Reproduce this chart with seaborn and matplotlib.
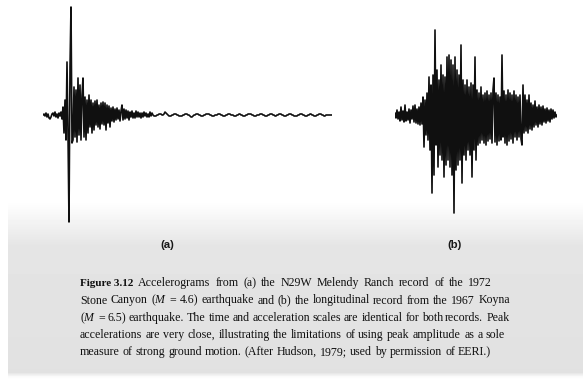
import numpy as np
import matplotlib
matplotlib.use("Agg")
import matplotlib.pyplot as plt
import seaborn as sns

# Digitised accelerograms, one sample every DT seconds (relative acceleration units)
DT = 0.05

# (a) N29W Melendy Ranch, 1972 Stone Canyon earthquake
accel_a = [
    0, 1, -1, 2, -2, 1, -3, -4, -2, 1,
    2, -1, 3, -2, 1, -3, 2, -1, 3, -4,
    8, -18, 15, -25, 53, -20, -107, 48, 108, -28,
    -25, 28, -22, 25, -27, 37, -20, 30, -25, 20,
    37, -22, 18, -25, 15, -18, 20, -12, 15, -18,
    12, -15, 14, -10, 15, -12, 10, -14, 12, -9,
    13, -10, 12, -15, 10, -8, 9, -12, 7, -6,
    8, -7, 6, -5, 7, -4, 5, -6, 4, 10,
    -5, 6, -4, 5, -3, 4, -5, 3, -2, 4,
    -3, 2, -3, 4, -2, 3, -2, 2, -3, 2,
    -2, 3, -1, 2, -2, 1, -2, 3, -1, 2,
    0, -1, -1, -1, 0, 0, 1, 1, 1, 0,
    0, 1, 3, 2, 1, 0, -1, -1, -1, 0,
    0, 1, 1, 1, 0, 0, -1, -1, -1, -1,
    0, 0, 1, 1, 1, 0, 0, -1, -2, -2,
    -1, 0, 0, 1, 1, 1, 0, 0, -1, -1,
    -1, 0, 0, 1, 1, 1, 1, 0, 0, -1,
    -1, -1, 0, 0, 0, 1, 1, 1, 0, 0,
    -1, -1, -1, 0, 0, 1, 1, 1, 0, 0,
    0, -1, -1, -1, 0, 0, 1, 1, 0, 0,
    -1, -1, -1, 0, 0, 1, 1, 1, 1, 0,
    0, -1, -1, -1, 0, 0, 0, 1, 1, 1,
    0, 0, -1, -1, -1, 0, 0, 1, 1, 1,
    0, 0, -1, -1, 0, 0, 1, 1, 1, 0,
    0, -1, -1, -1, 0, 0, 1, 1, 1, 0,
    0, -1, -1, -1, -1, 0, 0, 1, 1, 1,
    0, 0, -1, -1, -1, 0, 0, 1, 1, 0,
    0, -1, -1, -1, 0, 0, 1, 1, 1, 0,
    0, -1, -1, 0, 0, 0, 0, 0, 0, 0,
]

# (b) Longitudinal component, 1967 Koyna earthquake
accel_b = [
    2, -3, 5, -4, 3, -6, 8, -5, 4, -7,
    10, -6, 3, -5, 6, -8, 5, -4, 9, -7,
    10, -8, 6, -9, 8, -10, 12, -9, 18, -32,
    15, -20, 22, -25, 38, -35, 30, -78, 40, -60,
    85, -30, 45, -52, 35, -40, 50, -45, 40, -62,
    38, -50, 58, -45, 60, -52, 55, -60, 50, -98,
    58, -55, 45, -50, 40, -45, 70, -68, 35, -40,
    30, -45, 35, -35, 28, -40, 32, -62, 30, -35,
    58, -45, 25, -30, 22, -28, 28, -25, 20, -28,
    22, -30, 24, -26, 20, -24, 22, -28, 25, 37,
    -27, 22, -30, 20, -26, 18, -25, 60, -22, 24,
    -28, 20, -30, 25, -26, 22, -24, 20, -28, 24,
    -22, 20, -25, 18, -22, 20, -24, -30, 30, -18,
    20, -16, 15, -18, 20, -14, 12, -15, 10, -12,
    14, -10, 8, -12, 10, -9, 8, -10, 9, -7,
    6, -8, 7, -6, 5, -7, 6, -4, 5, -3,
    3, -2, 0,
]

panel_labels = ["(a)", "(b)"]

caption_head = "Figure 3.12"
caption_lines = [
    "Accelerograms from (a) the N29W Melendy Ranch record of the 1972",
    "Stone Canyon ($M$ = 4.6) earthquake and (b) the longitudinal record from the 1967 Koyna",
    "($M$ = 6.5) earthquake. The time and acceleration scales are identical for both records. Peak",
    "accelerations are very close, illustrating the limitations of using peak amplitude as a sole",
    "measure of strong ground motion. (After Hudson, 1979; used by permission of EERI.)",
]

sns.set_style("white")
plt.rcParams["font.family"] = ["Liberation Serif", "DejaVu Serif"]
plt.rcParams["mathtext.fontset"] = "custom"
plt.rcParams["mathtext.rm"] = "Liberation Serif"
plt.rcParams["mathtext.it"] = "Liberation Serif:italic"

W, H = 583, 379
DPI = 100
fig = plt.figure(figsize=(W / DPI, H / DPI), dpi=DPI)

# page background: white plate area fading into the grey caption area
bg = fig.add_axes([0, 0, 1, 1])
shade = np.interp(np.arange(H), [0, 203, 245, 372, 376, 379],
                  [255, 254, 229, 225, 250, 255])
img = np.tile(shade[:, None], (1, W))
img[:, :8] = 255
bg.imshow(img, cmap="gray", vmin=0, vmax=255, extent=(0, W, H, 0),
          aspect="auto", interpolation="bilinear")
bg.set_xlim(0, W)
bg.set_ylim(H, 0)
bg.axis("off")

# both records share one time scale (20 px per second) and one amplitude scale
PX_PER_S = 1 / DT
AMP = 120
BASE_Y = 115


def trace_axes(left_px, n):
    width_px = (n - 1) * DT * PX_PER_S
    ax = fig.add_axes([left_px / W, (H - BASE_Y - AMP) / H,
                       width_px / W, 2 * AMP / H])
    ax.set_xlim(0, (n - 1) * DT)
    ax.set_ylim(-AMP, AMP)
    ax.set_facecolor("none")
    ax.axis("off")
    return ax


for left, accel in [(43, accel_a), (395, accel_b)]:
    t = np.arange(len(accel)) * DT
    ax = trace_axes(left, len(accel))
    sns.lineplot(x=t, y=accel, ax=ax, color="#101010", linewidth=1.2,
                 estimator=None, sort=False)

for label, xc in zip(panel_labels, [167, 455]):
    bg.text(xc, 245, label, ha="center", va="center", fontsize=8.2,
            family=["Liberation Sans", "DejaVu Sans"], fontweight="bold",
            color="#181818")

# caption block, justified word by word
FS = 8.6
INK = "#101010"
renderer = fig.canvas.get_renderer()


def measure(s, **kw):
    probe = bg.text(0, 0, s, fontsize=FS, **kw)
    w = probe.get_window_extent(renderer).width
    probe.remove()
    return w


def set_line(text, x0, y, right=None):
    words = text.split(" ")
    full = measure(text)
    extra = 0.0
    if right is not None and len(words) > 1:
        extra = (right - x0 - full) / (len(words) - 1)
    for k, word in enumerate(words):
        prefix = " ".join(words[:k + 1])
        start = x0 + measure(prefix) - measure(word) + k * extra
        bg.text(start, y, word, ha="left", va="center", fontsize=FS, color=INK)


head = bg.text(80, 283, caption_head, ha="left", va="center", fontsize=8.0,
               fontweight="bold", color=INK)
head_right = 80 + head.get_window_extent(renderer).width
line_y = [283, 300.5, 318, 335, 352]
line_x0 = [max(128, head_right + 5), 80, 80, 80, 80]
line_right = [492, 510, 510, 505, None]
for line, y, x0, right in zip(caption_lines, line_y, line_x0, line_right):
    set_line(line, x0, y, right)

fig.savefig("out.png", dpi=DPI)
